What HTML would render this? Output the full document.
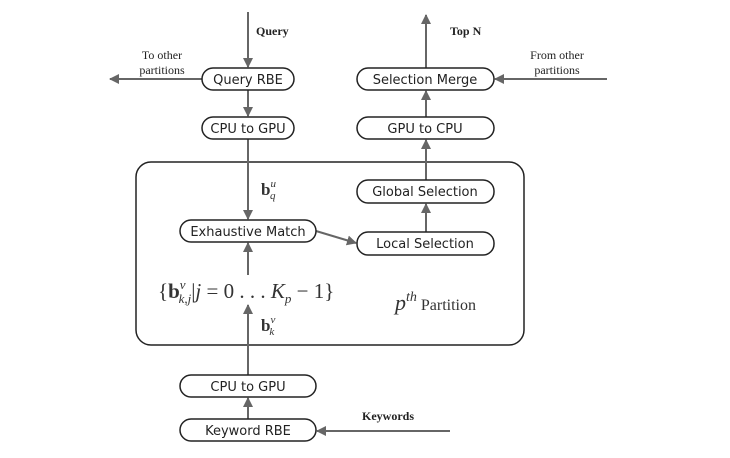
<!DOCTYPE html>
<html><head><style>
body{margin:0;background:#fff;}
svg{display:block;}
.b{fill:#fff;stroke:#222;stroke-width:1.5;}
.t{font-family:"DejaVu Sans","Liberation Sans",sans-serif;font-size:13px;fill:#222;text-anchor:middle;}
.s{font-family:"Liberation Serif",serif;font-size:12px;fill:#222;}
.l{stroke:#666;stroke-width:2;fill:none;}
.m{font-family:"Liberation Serif",serif;fill:#333;}
</style></head><body>
<svg width="730" height="458" viewBox="0 0 730 458">
<defs><marker id="a" markerWidth="10" markerHeight="10" refX="9" refY="5" orient="auto" markerUnits="userSpaceOnUse"><path d="M0,0 L10,5 L0,10 z" fill="#666"/></marker></defs>
<rect x="136" y="162" width="388" height="183" rx="15" class="b"/>
<line x1="248" y1="12" x2="248" y2="67" class="l" marker-end="url(#a)"/>
<line x1="248" y1="90" x2="248" y2="116" class="l" marker-end="url(#a)"/>
<line x1="248" y1="139" x2="248" y2="219" class="l" marker-end="url(#a)"/>
<line x1="248" y1="275" x2="248" y2="243" class="l" marker-end="url(#a)"/>
<line x1="248" y1="375" x2="248" y2="305" class="l" marker-end="url(#a)"/>
<line x1="248" y1="419" x2="248" y2="398" class="l" marker-end="url(#a)"/>
<line x1="202" y1="79" x2="110" y2="79" class="l" marker-end="url(#a)"/>
<line x1="607" y1="79" x2="495" y2="79" class="l" marker-end="url(#a)"/>
<line x1="450" y1="431" x2="317" y2="431" class="l" marker-end="url(#a)"/>
<line x1="316" y1="231" x2="356" y2="243" class="l" marker-end="url(#a)"/>
<line x1="426" y1="232" x2="426" y2="204" class="l" marker-end="url(#a)"/>
<line x1="426" y1="180" x2="426" y2="140" class="l" marker-end="url(#a)"/>
<line x1="426" y1="117" x2="426" y2="91" class="l" marker-end="url(#a)"/>
<line x1="426" y1="68" x2="426" y2="15" class="l" marker-end="url(#a)"/>
<rect x="202" y="68" width="92" height="22" rx="11" class="b"/><text x="248" y="84" class="t">Query RBE</text>
<rect x="202" y="117" width="92" height="22" rx="11" class="b"/><text x="248" y="133" class="t">CPU to GPU</text>
<rect x="357" y="68" width="137" height="22" rx="11" class="b"/><text x="425" y="84" class="t">Selection Merge</text>
<rect x="357" y="117" width="137" height="22" rx="11" class="b"/><text x="425" y="133" class="t">GPU to CPU</text>
<rect x="357" y="180" width="137" height="23" rx="11" class="b"/><text x="425" y="196" class="t">Global Selection</text>
<rect x="357" y="232" width="137" height="23" rx="11" class="b"/><text x="425" y="248" class="t">Local Selection</text>
<rect x="180" y="220" width="136" height="22" rx="11" class="b"/><text x="248" y="236" class="t">Exhaustive Match</text>
<rect x="180" y="375" width="136" height="22" rx="11" class="b"/><text x="248" y="391" class="t">CPU to GPU</text>
<rect x="180" y="419" width="136" height="22" rx="11" class="b"/><text x="248" y="435" class="t">Keyword RBE</text>
<text x="256" y="35" class="s" font-weight="bold">Query</text>
<text x="450" y="35" class="s" font-weight="bold">Top N</text>
<text x="362" y="420" class="s" font-weight="bold">Keywords</text>
<text x="162" y="59" class="s" font-size="13" text-anchor="middle">To other</text>
<text x="162" y="74" class="s" font-size="13" text-anchor="middle">partitions</text>
<text x="557" y="59" class="s" font-size="13" text-anchor="middle">From other</text>
<text x="557" y="74" class="s" font-size="13" text-anchor="middle">partitions</text>
<text x="261" y="195" class="m" font-size="17" font-weight="bold">b<tspan font-size="11" font-style="italic" font-weight="normal" dy="-8">u</tspan><tspan font-size="11" font-style="italic" font-weight="normal" dx="-6" dy="12">q</tspan></text>
<text x="261" y="331" class="m" font-size="17" font-weight="bold">b<tspan font-size="11" font-style="italic" font-weight="normal" dy="-8">v</tspan><tspan font-size="11" font-style="italic" font-weight="normal" dx="-6" dy="12">k</tspan></text>
<text x="158" y="298" class="m" font-size="21">{<tspan font-weight="bold">b</tspan><tspan font-size="13" font-style="italic" dy="-9">v</tspan><tspan font-size="13" font-style="italic" dx="-7" dy="14">k,j</tspan><tspan dy="-5">|<tspan font-style="italic">j</tspan> = 0 . . . <tspan font-style="italic">K</tspan></tspan><tspan font-size="13" font-style="italic" dy="5">p</tspan><tspan dy="-5"> − 1}</tspan></text>
<text x="395" y="310" class="m" font-size="22" font-style="italic">p<tspan font-size="14" dy="-9">th</tspan><tspan font-size="16" font-style="normal" dy="9"> Partition</tspan></text>
</svg>
</body></html>
